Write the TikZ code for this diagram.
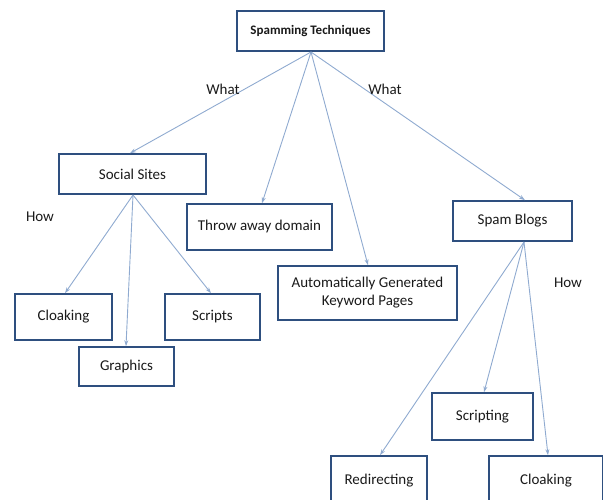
\documentclass[tikz,border=0pt]{standalone}
\usepackage{fontspec}
\setmainfont{Carlito}
\usetikzlibrary{arrows.meta}
\definecolor{boxc}{HTML}{2E4F7F}
\definecolor{arrc}{HTML}{8FAAD0}
\definecolor{txtc}{HTML}{1A1A1A}
\begin{document}
\begin{tikzpicture}[x=1pt,y=-1pt,
  box/.style={draw=boxc,line width=1.6pt,fill=white,inner sep=0pt,align=center,text=txtc,font=\fontsize{15}{18}\selectfont},
  arr/.style={draw=arrc,line width=0.9pt,-{Stealth[length=6pt,width=4pt]}},
  lbl/.style={text=txtc,font=\fontsize{15}{18}\selectfont}]
\useasboundingbox (0,0) rectangle (603,500);
\node[box,minimum width=147pt,minimum height=40pt,font=\fontsize{13}{15}\selectfont\bfseries] (st) at (310.5,31) {Spamming Techniques};
\node[box,minimum width=147pt,minimum height=40pt] (ss) at (132.5,174) {Social Sites};
\node[box,minimum width=145pt,minimum height=46pt] (td) at (259.5,227) {Throw away domain};
\node[box,minimum width=179pt,minimum height=54pt] (ag) at (367.5,293) {Automatically Generated\\Keyword Pages};
\node[box,minimum width=119pt,minimum height=40pt] (sb) at (512.5,221) {Spam Blogs};
\node[box,minimum width=97pt,minimum height=46pt] (c1) at (63.5,317) {Cloaking};
\node[box,minimum width=95pt,minimum height=39pt] (gr) at (126.5,366.5) {Graphics};
\node[box,minimum width=95pt,minimum height=46pt] (sc) at (212.5,317) {Scripts};
\node[box,minimum width=101pt,minimum height=47pt] (sg) at (482.5,416.5) {Scripting};
\node[box,minimum width=96pt,minimum height=50pt] (rd) at (379,481) {Redirecting};
\node[box,minimum width=114pt,minimum height=50pt] (c2) at (546,481) {Cloaking};
\coordinate (stb) at (311,52);
\coordinate (ssb) at (133,195);
\coordinate (sbb) at (524,242);
\draw[arr] (stb) -- (ss.north -| 130,0);
\draw[arr] (stb) -- (td.north -| 262,0);
\draw[arr] (stb) -- (ag.north -| 368,0);
\draw[arr] (stb) -- (sb.north -| 525,0);
\draw[arr] (ssb) -- (c1.north -| 65,0);
\draw[arr] (ssb) -- (gr.north -| 126,0);
\draw[arr] (ssb) -- (sc.north -| 211,0);
\draw[arr] (sbb) -- (rd.north -| 380,0);
\draw[arr] (sbb) -- (sg.north -| 484,0);
\draw[arr] (sbb) -- (c2.north -| 548,0);
\node[lbl] (w1) at (223,89) {What};
\node[lbl] (w2) at (385,89) {What};
\node[lbl] (h1) at (40,217) {How};
\node[lbl] (h2) at (568,283) {How};
\end{tikzpicture}
\end{document}
